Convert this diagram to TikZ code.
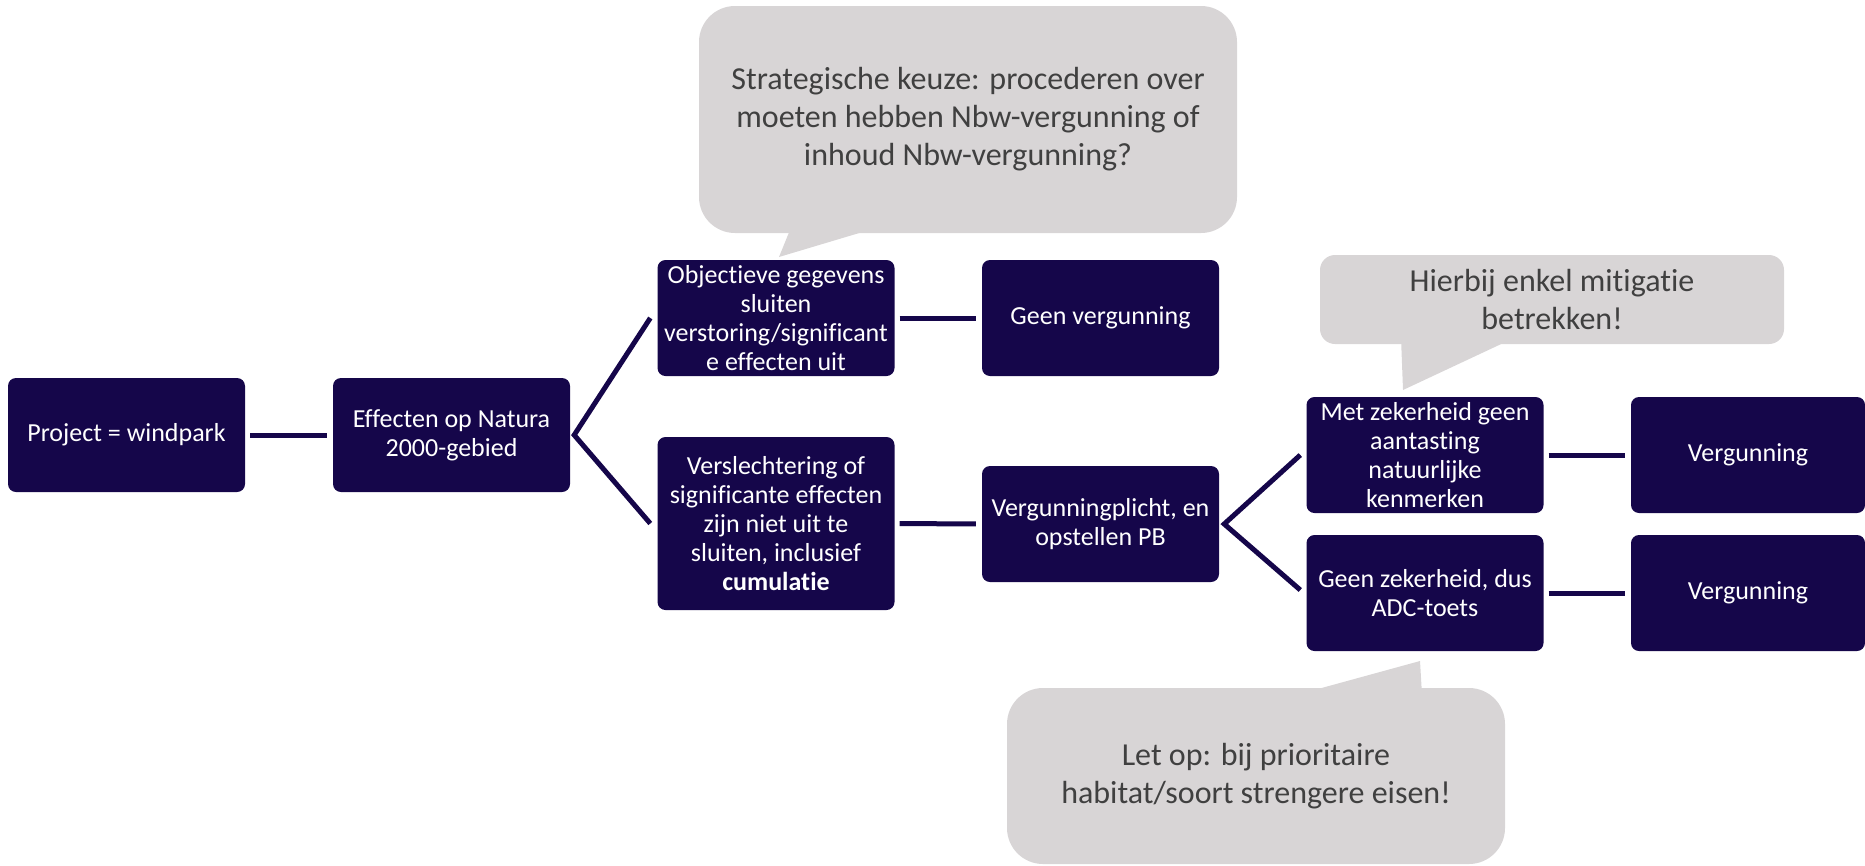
\documentclass[tikz,border=0pt]{standalone}
\usepackage{fontspec}
\setmainfont{Carlito}[Ligatures=NoCommon]
\usetikzlibrary{calc}
\definecolor{boxc}{HTML}{15064A}
\definecolor{callc}{HTML}{D8D5D6}
\definecolor{calltext}{HTML}{404040}
\tikzset{
  box/.style={fill=boxc, draw=none, rounded corners=8pt, text=white, align=center,
    minimum width=237pt, minimum height=116pt, inner sep=0pt,
    font=\fontsize{26}{29}\selectfont},
  callout/.style={fill=callc, draw=none, text=calltext, align=center, inner sep=0pt,
    font=\fontsize{32}{38}\selectfont},
  conn/.style={draw=boxc, line width=5pt, line join=miter},
}
\begin{document}
\begin{tikzpicture}[x=1pt,y=-1pt]
\useasboundingbox (0,0) rectangle (1865,865);
% callout pointers
\fill[callc] (792,225) -- (779,257) -- (886,225) -- cycle;
\fill[callc] (1401,338) -- (1403,390) -- (1514,338) -- cycle;
\fill[callc] (1296,695) -- (1420,661) -- (1422,695) -- cycle;
% callouts
\node[callout, minimum width=538pt, minimum height=227pt, rounded corners=36pt] (c1) at (968,119.5)
  {Strategische keuze: procederen over\\moeten hebben Nbw-vergunning of\\inhoud Nbw-vergunning?};
\node[callout, minimum width=464pt, minimum height=89pt, rounded corners=15pt] (c2) at (1552,299.5)
  {Hierbij enkel mitigatie\\betrekken!};
\node[callout, minimum width=498pt, minimum height=176pt, rounded corners=36pt] (c3) at (1256,776)
  {Let op: bij prioritaire\\habitat/soort strengere eisen!};
% boxes
\node[box, minimum height=114pt] (b1) at (126.5,435) {Project = windpark};
\node[box, minimum height=114pt] (b2) at (451.5,435) {Effecten op Natura\\2000-gebied};
\node[box] (b3) at (776,318) {Objectieve gegevens\\sluiten\\verstoring/significant\\e effecten uit};
\node[box] (gv) at (1100.5,318) {Geen vergunning};
\node[box, minimum height=173pt] (b4) at (776,523.5) {Verslechtering of\\significante effecten\\zijn niet uit te\\sluiten, inclusief\\\textbf{cumulatie}};
\node[box] (vp) at (1100.5,524) {Vergunningplicht, en\\opstellen PB};
\node[box] (mz) at (1425,455) {Met zekerheid geen\\aantasting\\natuurlijke\\kenmerken};
\node[box] (gz) at (1425,593) {Geen zekerheid, dus\\ADC-toets};
\node[box, minimum width=234pt] (v1) at (1748,455) {Vergunning};
\node[box, minimum width=234pt] (v2) at (1748,593) {Vergunning};
% connectors
\draw[conn, shorten <=5pt, shorten >=6pt] (b1.east) -- (b2.west);
\coordinate (f1) at ($(b2.east)+(4,0)$);
\draw[conn] ($(b3.west)+(-7,0)$) -- (f1) -- ($(b4.west)+(-7,0)$);
\draw[conn, shorten <=5pt, shorten >=6pt] (b3.east) -- (gv.west);
\draw[conn, shorten <=5pt, shorten >=6pt] (b4.east) -- (vp.west);
\coordinate (f2) at ($(vp.east)+(5,0)$);
\draw[conn] ($(mz.west)+(-6,0)$) -- (f2) -- ($(gz.west)+(-6,-3)$);
\draw[conn, shorten <=5pt, shorten >=6pt] (mz.east) -- (v1.west);
\draw[conn, shorten <=5pt, shorten >=6pt] (gz.east) -- (v2.west);
\end{tikzpicture}
\end{document}
